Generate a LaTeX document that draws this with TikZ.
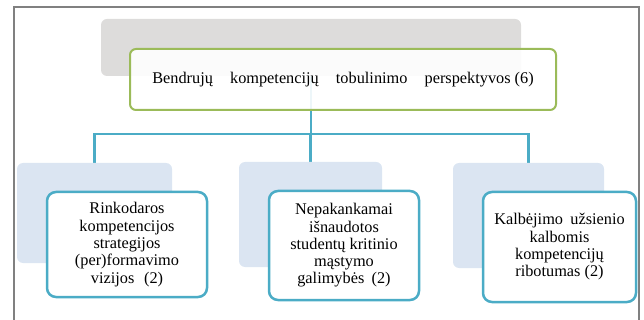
\documentclass[tikz,border=0pt]{standalone}
\usepackage{fontspec}
\setmainfont{Liberation Serif}
\definecolor{boxgray}{RGB}{221,220,219}
\definecolor{boxgreen}{RGB}{155,187,89}
\definecolor{boxpale}{RGB}{219,229,242}
\definecolor{boxteal}{RGB}{75,172,198}
\tikzset{
	backbox/.style={fill=#1, rounded corners=6pt, inner sep=0pt},
	mainbox/.style={draw=boxgreen, line width=2pt, fill=white, fill opacity=0.9, text opacity=1, rounded corners=6pt, inner sep=0pt, align=center},
	childbox/.style={draw=boxteal, line width=2.5pt, fill=white, rounded corners=9pt, inner sep=0pt, align=center},
	link/.style={draw=boxteal, line width=2.5pt},
}
\begin{document}
\begin{tikzpicture}[x=1pt, y=-1pt, font=\fontsize{16.3}{17.3}\selectfont]
	\useasboundingbox (0,0) rectangle (644,320);
	\draw [gray, line width=1.2pt](14,320) -- (14,7) -- (639,7) -- (639,320);
	% connectors
	\coordinate (bar) at (311,134);
	\draw [link](311,47.5) -- (bar);
	\draw [link](bar) -| (94.5,163);
	\draw [link](bar) -| (310.5,163);
	\draw [link](bar) -| (528.5,163);
	% top level
	\node (topback) at (311,47.5)[backbox=boxgray, minimum width=420pt, minimum height=57pt]{};
	\node (top) at (343,79.5)[mainbox, minimum width=426pt, minimum height=61pt]{Bendrujų\hspace{1.05em}kompetencijų\hspace{1.05em}tobulinimo\hspace{1.05em}perspektyvos (6)};
	% second level
	\node (leftback) at (94.5,213)[backbox=boxpale, minimum width=155pt, minimum height=100pt]{};
	\node (midback) at (310.5,214.5)[backbox=boxpale, minimum width=143pt, minimum height=105pt]{};
	\node (rightback) at (528.5,215.5)[backbox=boxpale, minimum width=151pt, minimum height=105pt]{};
	\node (left) at (127,244.5)[childbox, minimum width=160pt, minimum height=105pt]{Rinkodaros\\kompetencijos\\strategijos\\(per)formavimo\\vizijos\hspace{.6em}(2)};
	\node (mid) at (344,245.5)[childbox, minimum width=150pt, minimum height=109pt]{Nepakankamai\\išnaudotos\\studentų kritinio\\mąstymo\\galimybės\hspace{.2em} (2)};
	\node (right) at (559.5,247)[childbox, minimum width=153pt, minimum height=110pt]{Kalbėjimo\hspace{.2em} užsienio\\kalbomis\\kompetencijų\\ribotumas (2)};
\end{tikzpicture}
\end{document}
